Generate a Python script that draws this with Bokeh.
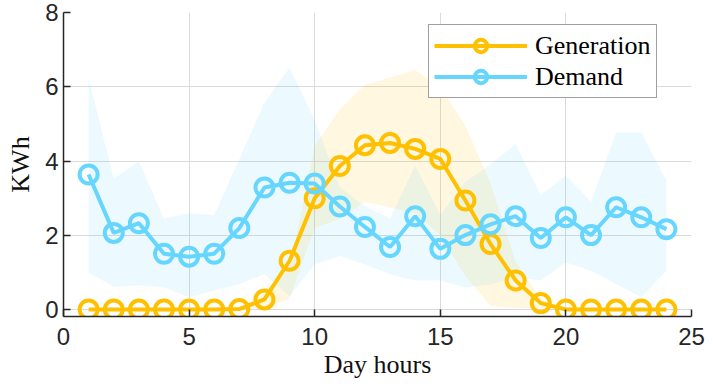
from bokeh.plotting import figure
from bokeh.models import FixedTicker, Legend, LegendItem, ColumnDataSource
from bokeh.embed import file_html
from bokeh.resources import INLINE

hours = list(range(1, 25))
generation = [0.01, 0.01, 0.01, 0.01, 0.01, 0.01, 0.02, 0.28, 1.32, 3.00, 3.87, 4.43,
              4.49, 4.33, 4.06, 2.94, 1.77, 0.79, 0.18, 0.01, 0.01, 0.01, 0.01, 0.01]
demand = [3.64, 2.07, 2.33, 1.51, 1.43, 1.51, 2.20, 3.29, 3.42, 3.40, 2.78, 2.23,
          1.69, 2.52, 1.64, 2.01, 2.30, 2.52, 1.93, 2.49, 2.01, 2.76, 2.49, 2.17]
gen_upper = [0.0, 0.0, 0.0, 0.0, 0.0, 0.0, 0.05, 0.5, 1.1, 4.4, 5.4, 6.05,
             6.25, 6.45, 6.0, 4.95, 3.4, 1.3, 0.3, 0.0, 0.0, 0.0, 0.0, 0.0]
gen_lower = [0.0, 0.0, 0.0, 0.0, 0.0, 0.0, 0.0, 0.05, 0.3, 2.2, 2.45, 2.9,
             2.75, 2.6, 2.0, 0.9, 0.1, 0.05, 0.05, 0.0, 0.0, 0.0, 0.0, 0.0]
dem_upper = [6.24, 3.53, 3.99, 2.46, 2.60, 2.55, 4.06, 5.57, 6.52, 5.10, 3.30, 2.78,
             2.46, 3.88, 2.55, 3.44, 3.92, 4.46, 3.08, 3.62, 2.91, 4.77, 4.77, 3.48]
dem_lower = [1.00, 0.62, 0.66, 0.60, 0.34, 0.52, 0.69, 0.96, 0.37, 1.22, 1.45, 1.22,
             0.96, 0.79, 0.79, 0.60, 0.69, 0.87, 0.79, 1.27, 1.05, 0.69, 0.34, 1.05]
x_ticks = [0, 5, 10, 15, 20, 25]
y_ticks = [0, 2, 4, 6, 8]

ORANGE = "#FFC000"
BLUE = "#66D6FF"

src = ColumnDataSource(dict(h=hours, g=generation, d=demand, gu=gen_upper, gl=gen_lower,
                            du=dem_upper, dl=dem_lower))

p = figure(width=705, height=381, x_range=(0, 25), y_range=(-0.18, 8),
           output_backend="svg", toolbar_location=None,
           min_border_left=63, min_border_right=14, min_border_top=12, min_border_bottom=62)
p.outline_line_color = None

p.varea(x="h", y1="gl", y2="gu", source=src, fill_color=ORANGE, fill_alpha=0.12)
p.varea(x="h", y1="dl", y2="du", source=src, fill_color=BLUE, fill_alpha=0.12)

gl = p.line("h", "g", source=src, line_color=ORANGE, line_width=4)
gs = p.scatter("h", "g", source=src, marker="circle", size=18, fill_color=None,
               line_color=ORANGE, line_width=4)
dl = p.line("h", "d", source=src, line_color=BLUE, line_width=4)
ds = p.scatter("h", "d", source=src, marker="circle", size=18, fill_color=None,
               line_color=BLUE, line_width=4)

legend = Legend(items=[LegendItem(label="Generation", renderers=[gl, gs]),
                       LegendItem(label="Demand", renderers=[dl, ds])],
                location=(365, 218))
legend.label_text_font = "Liberation Serif"
legend.label_text_font_size = "26px"
legend.label_text_color = "black"
legend.glyph_width = 93
legend.glyph_height = 31
legend.label_height = 31
legend.label_standoff = 8
legend.spacing = 0
legend.padding = 5
legend.margin = 0
legend.border_line_color = "#404040"
legend.border_line_width = 1.3
legend.background_fill_color = "white"
legend.background_fill_alpha = 1.0
p.add_layout(legend)

p.xaxis.ticker = FixedTicker(ticks=x_ticks)
p.yaxis.ticker = FixedTicker(ticks=y_ticks)
p.xaxis.axis_label = "Day hours"
p.yaxis.axis_label = "KWh"
for ax in (p.xaxis, p.yaxis):
    ax.axis_label_text_font = "Liberation Serif"
    ax.axis_label_text_font_size = "26px"
    ax.axis_label_text_font_style = "normal"
    ax.axis_label_text_color = "#111111"
    ax.major_label_text_font = "Liberation Sans"
    ax.major_label_text_font_size = "24px"
    ax.major_label_text_color = "#262626"
    ax.axis_line_color = "#262626"
    ax.axis_line_width = 1.5
    ax.major_tick_line_color = "#262626"
    ax.major_tick_line_width = 1.5
    ax.major_tick_in = 7
    ax.major_tick_out = 0
    ax.minor_tick_line_color = None
p.xaxis.major_label_standoff = 11
p.yaxis.major_label_standoff = 5
p.xaxis.axis_label_standoff = 2
p.yaxis.axis_label_standoff = 7

p.xgrid.ticker = FixedTicker(ticks=x_ticks)
p.ygrid.ticker = FixedTicker(ticks=y_ticks)
p.grid.grid_line_color = "#DADADA"
p.grid.grid_line_width = 1

open("out.html", "w").write(file_html(p, INLINE))
